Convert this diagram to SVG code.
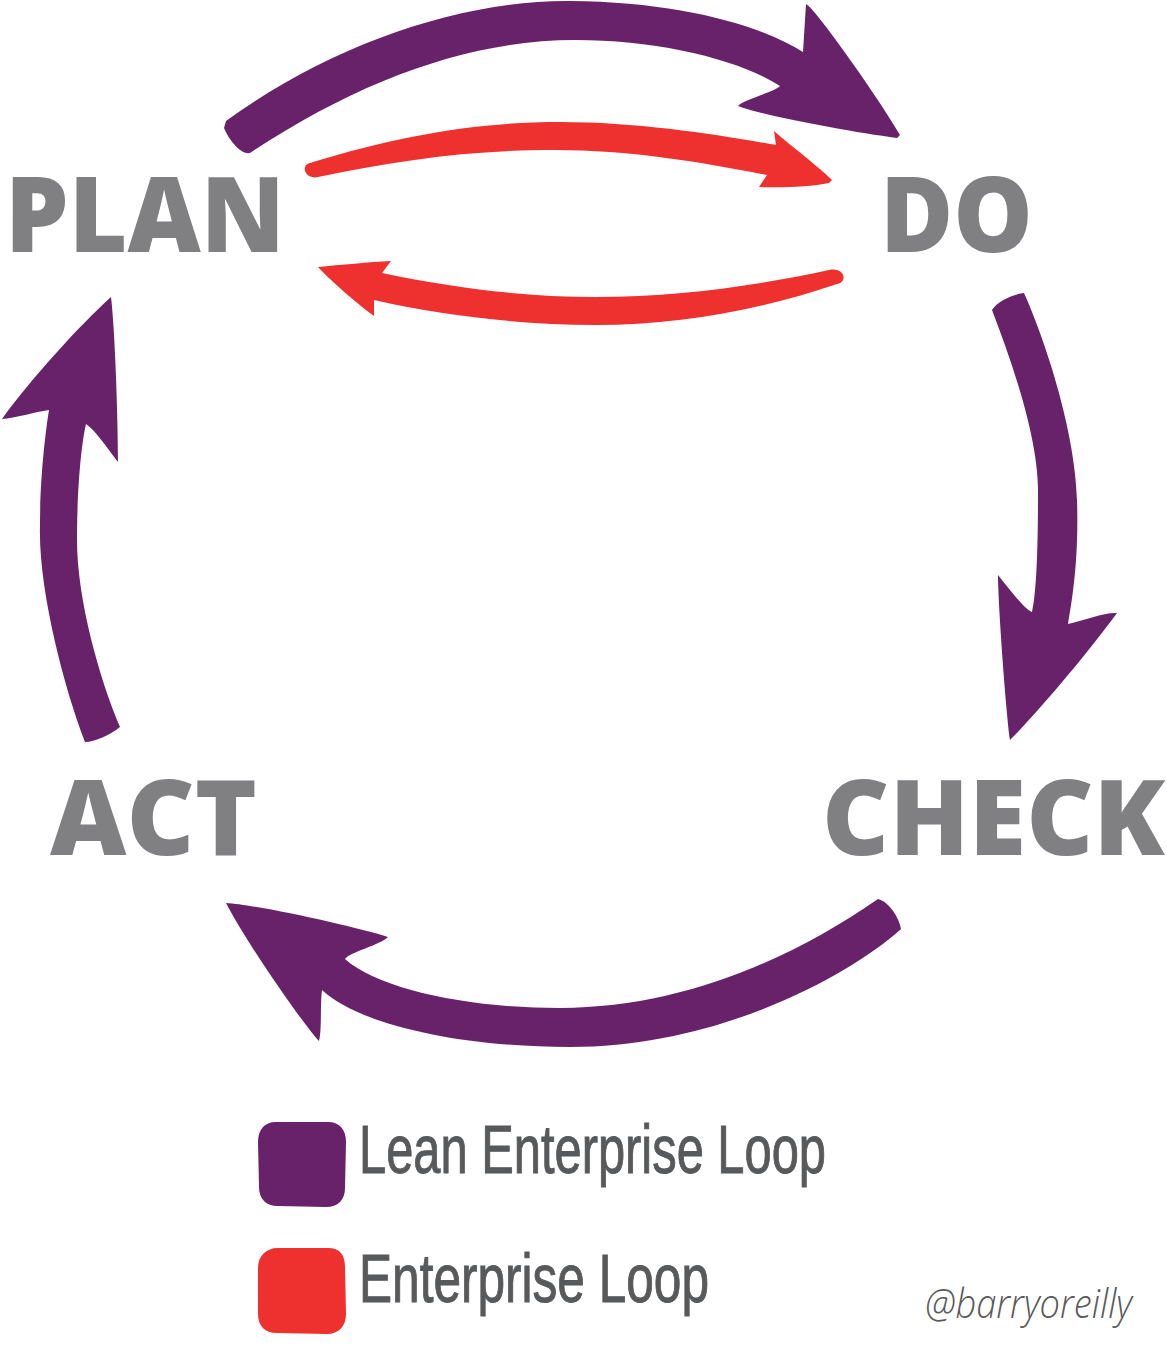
<svg xmlns="http://www.w3.org/2000/svg" width="1167" height="1350" viewBox="0 0 1167 1350">
<style>
.lean{fill:#68226A}
.ent{fill:#EE312E}
.stage{font-family:"Open Sans","Liberation Sans",sans-serif;font-weight:800;font-size:105px;fill:#808083}
.leg{font-family:"Liberation Sans","Open Sans",sans-serif;font-size:68px;fill:#58595B;stroke:#58595B;stroke-width:1}
.sig{font-family:"Open Sans","Liberation Sans",sans-serif;font-style:italic;font-weight:300;font-size:40px;fill:#5A5A5A}
</style>
<rect width="1167" height="1350" fill="#FFFFFF"/>
<g id="connectors">
<path id="plan-do-lean" class="lean" d="M226,121 C330,45 460,0 570,1 C680,2 760,25 803,52 L806,4 C815,8 880,100 900,135 L897,138 C850,132 760,115 738,106 C742,100 775,92 780,86 C740,60 660,40 575,40 C470,40 360,80 250,153 C240,155 228,138 224,128 Z"/>
<path id="do-check-lean" class="lean" d="M992,310 C998,300 1015,294 1024,293 C1045,340 1075,430 1077,500 C1079,560 1072,600 1068,624 C1085,620 1105,612 1117,613 C1090,650 1040,710 1010,740 C1005,700 998,600 998,575 C1010,590 1025,610 1032,612 C1037,590 1038,540 1038,490 C1038,440 1015,370 992,310 Z"/>
<path id="check-act-lean" class="lean" d="M878,899 C890,902 900,920 901,929 C850,975 720,1047 570,1047 C460,1047 360,1025 322,990 C320,1005 322,1030 319,1041 C300,1020 245,940 226,903 C260,905 360,928 388,937 C380,945 350,952 345,959 C380,990 470,1008 560,1008 C680,1008 790,960 878,899 Z"/>
<path id="act-plan-lean" class="lean" d="M111,297 C115,330 118,420 118,462 C105,445 95,430 86,424 C80,450 77,500 77,540 C77,600 100,680 120,727 C110,735 95,742 85,742 C65,690 38,590 40,525 C40,480 45,435 49,410 C35,412 15,418 2,419 C30,380 80,325 111,297 Z"/>
<path id="plan-do-ent" class="ent" d="M310,163 C400,135 480,122 560,122 C640,122 720,135 776,145 L774,131 C790,145 820,168 832,180 L829,183 C810,187 780,188 759,187 L767,175 C700,162 630,150 555,150 C470,150 400,160 318,177 C305,180 300,165 310,163 Z"/>
<path id="do-plan-ent" class="ent" d="M318,267 C340,265 370,262 391,261 L382,273 C450,287 520,297 595,297 C680,297 760,285 829,270 C845,267 848,282 837,284 C760,310 680,325 595,325 C520,325 440,315 374,300 L374,316 C355,302 330,280 318,267 Z"/>
</g>
<g id="plan"><text class="stage" x="5" y="252" textLength="280" lengthAdjust="spacingAndGlyphs">PLAN</text></g>
<g id="do"><text class="stage" x="880" y="252" textLength="153" lengthAdjust="spacingAndGlyphs">DO</text></g>
<g id="check"><text class="stage" x="822" y="855" textLength="343" lengthAdjust="spacingAndGlyphs">CHECK</text></g>
<g id="act"><text class="stage" x="50" y="855" textLength="207" lengthAdjust="spacingAndGlyphs">ACT</text></g>
<g id="legend">
<path class="lean" d="M276,1122 L328,1122 C340,1122 346,1130 346,1142 L345,1188 C345,1200 338,1207 326,1207 L278,1206 C266,1206 259,1199 259,1187 L258,1142 C258,1130 264,1122 276,1122 Z"/>
<text class="leg" x="359" y="1173" textLength="467" lengthAdjust="spacingAndGlyphs">Lean Enterprise Loop</text>
<path class="ent" d="M278,1248 L328,1248 C340,1248 345,1255 345,1267 L346,1314 C346,1326 339,1334 327,1334 L277,1333 C265,1333 258,1326 258,1314 L258,1268 C258,1256 266,1248 278,1248 Z"/>
<text class="leg" x="359" y="1302" textLength="350" lengthAdjust="spacingAndGlyphs">Enterprise Loop</text>
</g>
<g id="credit"><text class="sig" x="925" y="1318" textLength="207" lengthAdjust="spacingAndGlyphs">@barryoreilly</text></g>
</svg>
